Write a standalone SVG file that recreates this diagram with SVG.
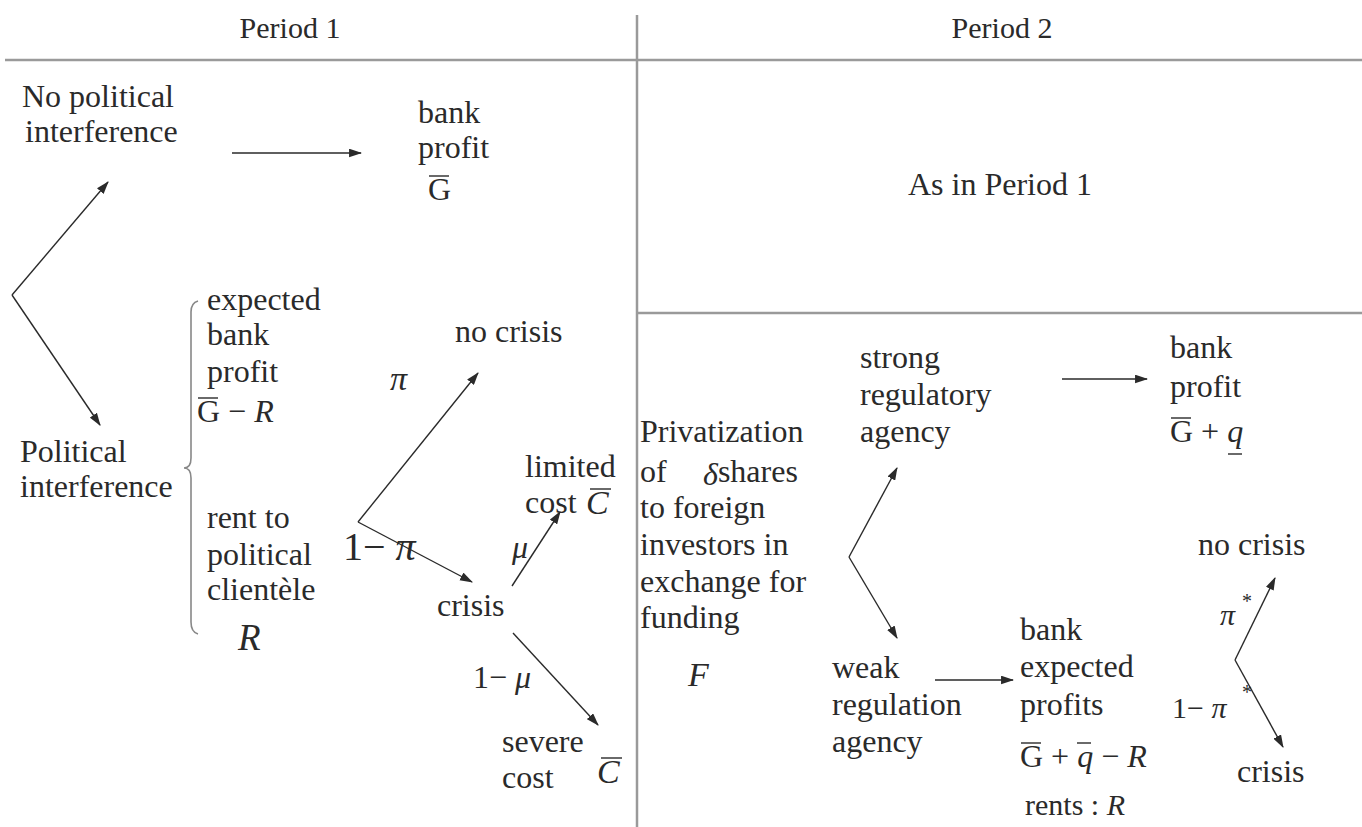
<svg xmlns="http://www.w3.org/2000/svg" width="1362" height="827" viewBox="0 0 1362 827">
<marker id="ah" viewBox="0 0 12 8" refX="11" refY="4" markerWidth="13" markerHeight="9" markerUnits="userSpaceOnUse" orient="auto"><path d="M0,0 L12,4 L0,8 z" fill="#2a2a2a"/></marker>
<rect width="1362" height="827" fill="#fff"/>
<g id="grid" stroke="#9a9a9a" stroke-width="2.5" fill="none">
<line x1="5" y1="60" x2="1362" y2="60"/>
<line x1="637" y1="15" x2="637" y2="827"/>
<line x1="637" y1="313" x2="1362" y2="313"/>
</g>
<g id="headers">
<text font-family="Liberation Serif" font-size="30" fill="#2a2a2a" x="290" y="38" text-anchor="middle">Period 1</text>
<text font-family="Liberation Serif" font-size="30" fill="#2a2a2a" x="1002" y="38" text-anchor="middle">Period 2</text>
</g>
<g id="connectors" stroke="#2a2a2a" stroke-width="1.4" fill="none" marker-end="url(#ah)">
<line x1="12" y1="295" x2="108" y2="182"/>
<line x1="12" y1="295" x2="100" y2="425"/>
<line x1="232" y1="153" x2="361" y2="153"/>
<line x1="358" y1="522" x2="478" y2="373"/>
<line x1="358" y1="522" x2="472" y2="582"/>
<line x1="512" y1="586" x2="560" y2="512"/>
<line x1="513" y1="633" x2="598" y2="725"/>
<line x1="849" y1="557" x2="897" y2="468"/>
<line x1="849" y1="557" x2="897" y2="638"/>
<line x1="935" y1="680" x2="1013" y2="680"/>
<line x1="1062" y1="379" x2="1147" y2="379"/>
<line x1="1235" y1="660" x2="1275" y2="578"/>
<line x1="1235" y1="660" x2="1283" y2="747"/>
</g>
<g id="no-interference">
<text font-family="Liberation Serif" font-size="32" fill="#2a2a2a" x="22" y="107">No political</text>
<text font-family="Liberation Serif" font-size="32" fill="#2a2a2a" x="25" y="142">interference</text>
</g>
<g id="bank-profit-1">
<text font-family="Liberation Serif" font-size="32" fill="#2a2a2a" x="418" y="123">bank</text>
<text font-family="Liberation Serif" font-size="32" fill="#2a2a2a" x="418" y="158">profit</text>
<text font-family="Liberation Serif" font-size="32" fill="#2a2a2a" x="428" y="200">G</text>
<line stroke="#2a2a2a" stroke-width="1.4" x1="429" y1="176" x2="449" y2="176"/>
</g>
<g id="political-interference">
<text font-family="Liberation Serif" font-size="32" fill="#2a2a2a" x="20" y="462">Political</text>
<text font-family="Liberation Serif" font-size="32" fill="#2a2a2a" x="20" y="497">interference</text>
<path stroke="#888" stroke-width="1.6" fill="none" d="M198,301 Q191,303 191,312 L191,458 Q191,468 184,468 Q191,468 191,478 L191,622 Q191,632 198,634"/>
</g>
<g id="expected-profit">
<text font-family="Liberation Serif" font-size="32" fill="#2a2a2a" x="207" y="310">expected</text>
<text font-family="Liberation Serif" font-size="32" fill="#2a2a2a" x="207" y="345">bank</text>
<text font-family="Liberation Serif" font-size="32" fill="#2a2a2a" x="207" y="382">profit</text>
<text font-family="Liberation Serif" font-size="32" fill="#2a2a2a" x="197" y="422">G &#8722; <tspan font-style="italic">R</tspan></text>
<line stroke="#2a2a2a" stroke-width="1.4" x1="198" y1="398" x2="218" y2="398"/>
</g>
<g id="rent">
<text font-family="Liberation Serif" font-size="32" fill="#2a2a2a" x="207" y="528">rent to</text>
<text font-family="Liberation Serif" font-size="32" fill="#2a2a2a" x="207" y="565">political</text>
<text font-family="Liberation Serif" font-size="32" fill="#2a2a2a" x="207" y="600">client&#232;le</text>
<text font-family="Liberation Serif" font-size="37" font-style="italic" fill="#2a2a2a" x="238" y="650">R</text>
</g>
<g id="probs-1">
<text font-family="Liberation Serif" font-size="34" font-style="italic" fill="#2a2a2a" x="390" y="390">&#960;</text>
<text font-family="Liberation Serif" font-size="40" fill="#2a2a2a" x="343" y="560">1&#8722; <tspan font-style="italic">&#960;</tspan></text>
<text font-family="Liberation Serif" font-size="32" font-style="italic" fill="#2a2a2a" x="512" y="558">&#956;</text>
<text font-family="Liberation Serif" font-size="32" fill="#2a2a2a" x="473" y="688">1&#8722; <tspan font-style="italic">&#956;</tspan></text>
</g>
<g id="no-crisis-1"><text font-family="Liberation Serif" font-size="32" fill="#2a2a2a" x="455" y="342">no crisis</text></g>
<g id="crisis-1"><text font-family="Liberation Serif" font-size="32" fill="#2a2a2a" x="437" y="616">crisis</text></g>
<g id="limited-cost">
<text font-family="Liberation Serif" font-size="32" fill="#2a2a2a" x="525" y="477">limited</text>
<text font-family="Liberation Serif" font-size="32" fill="#2a2a2a" x="525" y="513">cost</text>
<text font-family="Liberation Serif" font-size="34" font-style="italic" fill="#2a2a2a" x="586" y="514">C</text>
<line stroke="#2a2a2a" stroke-width="1.4" x1="590" y1="489" x2="611" y2="489"/>
</g>
<g id="severe-cost">
<text font-family="Liberation Serif" font-size="32" fill="#2a2a2a" x="502" y="752">severe</text>
<text font-family="Liberation Serif" font-size="32" fill="#2a2a2a" x="502" y="788">cost</text>
<text font-family="Liberation Serif" font-size="34" font-style="italic" fill="#2a2a2a" x="597" y="783">C</text>
<line stroke="#2a2a2a" stroke-width="1.4" x1="601" y1="758" x2="622" y2="758"/>
</g>
<g id="as-in-period-1"><text font-family="Liberation Serif" font-size="32" fill="#2a2a2a" x="1000" y="195" text-anchor="middle">As in Period 1</text></g>
<g id="privatization">
<text font-family="Liberation Serif" font-size="32" fill="#2a2a2a" x="640" y="442">Privatization</text>
<text font-family="Liberation Serif" font-size="32" fill="#2a2a2a" x="640" y="482">of</text>
<text font-family="Liberation Serif" font-size="32" fill="#2a2a2a" x="703" y="482"><tspan font-style="italic" dy="3">&#948;</tspan><tspan dy="-3">shares</tspan></text>
<text font-family="Liberation Serif" font-size="32" fill="#2a2a2a" x="640" y="518">to foreign</text>
<text font-family="Liberation Serif" font-size="32" fill="#2a2a2a" x="640" y="555">investors in</text>
<text font-family="Liberation Serif" font-size="32" fill="#2a2a2a" x="640" y="592">exchange for</text>
<text font-family="Liberation Serif" font-size="32" fill="#2a2a2a" x="640" y="628">funding</text>
<text font-family="Liberation Serif" font-size="34" font-style="italic" fill="#2a2a2a" x="688" y="686">F</text>
</g>
<g id="strong-agency">
<text font-family="Liberation Serif" font-size="32" fill="#2a2a2a" x="860" y="368">strong</text>
<text font-family="Liberation Serif" font-size="32" fill="#2a2a2a" x="860" y="405">regulatory</text>
<text font-family="Liberation Serif" font-size="32" fill="#2a2a2a" x="860" y="442">agency</text>
</g>
<g id="weak-agency">
<text font-family="Liberation Serif" font-size="32" fill="#2a2a2a" x="832" y="678">weak</text>
<text font-family="Liberation Serif" font-size="32" fill="#2a2a2a" x="832" y="715">regulation</text>
<text font-family="Liberation Serif" font-size="32" fill="#2a2a2a" x="832" y="752">agency</text>
</g>
<g id="bank-profit-2">
<text font-family="Liberation Serif" font-size="32" fill="#2a2a2a" x="1170" y="358">bank</text>
<text font-family="Liberation Serif" font-size="32" fill="#2a2a2a" x="1170" y="397">profit</text>
<text font-family="Liberation Serif" font-size="32" fill="#2a2a2a" x="1170" y="442">G + <tspan font-style="italic">q</tspan></text>
<line stroke="#2a2a2a" stroke-width="1.4" x1="1171" y1="418" x2="1191" y2="418"/>
<line stroke="#2a2a2a" stroke-width="1.4" x1="1228" y1="454" x2="1242" y2="454"/>
</g>
<g id="bank-expected-profits">
<text font-family="Liberation Serif" font-size="32" fill="#2a2a2a" x="1020" y="640">bank</text>
<text font-family="Liberation Serif" font-size="32" fill="#2a2a2a" x="1020" y="677">expected</text>
<text font-family="Liberation Serif" font-size="32" fill="#2a2a2a" x="1020" y="715">profits</text>
<text font-family="Liberation Serif" font-size="32" fill="#2a2a2a" x="1020" y="767">G + <tspan font-style="italic">q</tspan> &#8722; <tspan font-style="italic">R</tspan></text>
<line stroke="#2a2a2a" stroke-width="1.4" x1="1021" y1="743" x2="1041" y2="743"/>
<line stroke="#2a2a2a" stroke-width="1.4" x1="1077" y1="743" x2="1091" y2="743"/>
<text font-family="Liberation Serif" font-size="30" fill="#2a2a2a" x="1025" y="815">rents : <tspan font-style="italic">R</tspan></text>
</g>
<g id="no-crisis-2"><text font-family="Liberation Serif" font-size="32" fill="#2a2a2a" x="1198" y="555">no crisis</text></g>
<g id="crisis-2"><text font-family="Liberation Serif" font-size="32" fill="#2a2a2a" x="1237" y="782">crisis</text></g>
<g id="probs-2">
<text font-family="Liberation Serif" font-size="30" font-style="italic" fill="#2a2a2a" x="1220" y="625">&#960;</text>
<text font-family="Liberation Serif" font-size="20" fill="#2a2a2a" x="1242" y="608">*</text>
<text font-family="Liberation Serif" font-size="30" fill="#2a2a2a" x="1172" y="718">1&#8722; <tspan font-style="italic">&#960;</tspan></text>
<text font-family="Liberation Serif" font-size="20" fill="#2a2a2a" x="1242" y="699">*</text>
</g>
</svg>
